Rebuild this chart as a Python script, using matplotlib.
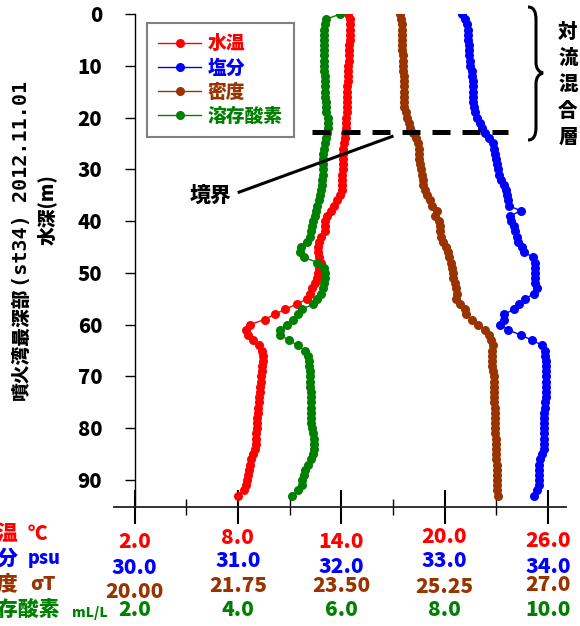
import matplotlib
matplotlib.use('Agg')
import matplotlib.pyplot as plt
import matplotlib.transforms as mtransforms
from matplotlib.path import Path
from matplotlib.patches import PathPatch

plt.rcParams['font.family'] = ['Noto Sans CJK JP', 'DejaVu Sans']
plt.rcParams['font.weight'] = 'heavy'
WT = 'heavy'

# ---------------- data ----------------
depth = list(range(0, 94))

temperature = [
    14.42, 14.50, 14.52, 14.50, 14.48, 14.50, 14.46, 14.45, 14.44, 14.45,
    14.42, 14.40, 14.40, 14.38, 14.36, 14.36, 14.35, 14.34, 14.33, 14.32,
    14.30, 14.30, 14.28, 14.24, 14.20, 14.16, 14.13, 14.12, 14.12, 14.10,
    14.08, 14.06, 14.05, 14.04, 14.02, 13.90, 13.75, 13.60, 13.42, 13.20,
    13.07, 13.07, 13.06, 12.85, 12.70, 12.66, 12.63, 12.72, 12.82, 12.72,
    12.64, 12.60, 12.45, 12.32, 12.18, 12.00, 11.45, 10.75, 10.13, 9.55,
    8.68, 8.45, 8.60, 8.85, 9.25, 9.40, 9.44, 9.43, 9.42, 9.40,
    9.36, 9.33, 9.30, 9.27, 9.24, 9.21, 9.18, 9.15, 9.12, 9.11,
    9.10, 9.08, 9.07, 9.05, 9.02, 8.90, 8.78, 8.72, 8.66, 8.60,
    8.55, 8.48, 8.33, 8.00]

salinity = [
    33.166, 33.200, 33.215, 33.222, 33.227, 33.230, 33.232, 33.235, 33.238, 33.242,
    33.250, 33.260, 33.268, 33.272, 33.276, 33.278, 33.278, 33.279, 33.285, 33.298,
    33.318, 33.340, 33.362, 33.392, 33.430, 33.470, 33.482, 33.490, 33.497, 33.503,
    33.515, 33.530, 33.550, 33.572, 33.592, 33.606, 33.612, 33.620, 33.736, 33.633,
    33.645, 33.668, 33.685, 33.698, 33.705, 33.750, 33.768, 33.858, 33.870, 33.874,
    33.874, 33.874, 33.878, 33.890, 33.868, 33.775, 33.715, 33.675, 33.575, 33.575,
    33.535, 33.616, 33.736, 33.850, 33.945, 33.968, 33.975, 33.978, 33.980, 33.981,
    33.981, 33.981, 33.981, 33.980, 33.978, 33.975, 33.970, 33.965, 33.962, 33.962,
    33.961, 33.961, 33.961, 33.961, 33.958, 33.938, 33.918, 33.916, 33.916, 33.916,
    33.916, 33.914, 33.898, 33.860]

density = [
    24.50, 24.51, 24.52, 24.52, 24.53, 24.53, 24.53, 24.53, 24.54, 24.54,
    24.55, 24.55, 24.56, 24.56, 24.57, 24.57, 24.57, 24.57, 24.57, 24.59,
    24.61, 24.64, 24.67, 24.72, 24.76, 24.80, 24.81, 24.82, 24.82, 24.83,
    24.85, 24.86, 24.88, 24.89, 24.91, 24.95, 25.00, 25.03, 25.12, 25.08,
    25.15, 25.17, 25.18, 25.19, 25.23, 25.28, 25.31, 25.33, 25.36, 25.38,
    25.39, 25.40, 25.42, 25.45, 25.46, 25.44, 25.51, 25.59, 25.61, 25.72,
    25.82, 25.94, 26.00, 26.04, 26.07, 26.06, 26.05, 26.06, 26.06, 26.07,
    26.08, 26.08, 26.09, 26.09, 26.09, 26.09, 26.10, 26.10, 26.10, 26.10,
    26.11, 26.11, 26.12, 26.12, 26.12, 26.12, 26.12, 26.13, 26.13, 26.13,
    26.13, 26.13, 26.14, 26.16]

oxygen = [
    5.98, 5.71, 5.68, 5.67, 5.67, 5.66, 5.66, 5.66, 5.67, 5.67,
    5.67, 5.67, 5.68, 5.68, 5.68, 5.69, 5.69, 5.70, 5.70, 5.71,
    5.74, 5.75, 5.75, 5.72, 5.70, 5.68, 5.66, 5.65, 5.65, 5.65,
    5.64, 5.64, 5.63, 5.63, 5.61, 5.59, 5.56, 5.54, 5.51, 5.50,
    5.46, 5.43, 5.42, 5.40, 5.33, 5.22, 5.21, 5.28, 5.54, 5.66,
    5.68, 5.69, 5.67, 5.64, 5.61, 5.54, 5.46, 5.25, 5.17, 5.07,
    4.95, 4.81, 4.82, 4.99, 5.16, 5.30, 5.35, 5.37, 5.38, 5.39,
    5.40, 5.40, 5.40, 5.41, 5.41, 5.41, 5.41, 5.41, 5.41, 5.42,
    5.44, 5.45, 5.47, 5.48, 5.48, 5.46, 5.42, 5.36, 5.30, 5.27,
    5.25, 5.24, 5.17, 5.05]

series_names = ['水温', '塩分', '密度', '溶存酸素']
unit_names = ['℃', 'psu', 'σT', 'mL/L']

temp_ticks = [2.0, 8.0, 14.0, 20.0, 26.0]
temp_labels = ['2.0', '8.0', '14.0', '20.0', '26.0']
sal_ticks = [30.0, 31.0, 32.0, 33.0, 34.0]
sal_labels = ['30.0', '31.0', '32.0', '33.0', '34.0']
dens_ticks = [20.0, 21.75, 23.5, 25.25, 27.0]
dens_labels = ['20.00', '21.75', '23.50', '25.25', '27.0']
do_ticks = [2.0, 4.0, 6.0, 8.0, 10.0]
do_labels = ['2.0', '4.0', '6.0', '8.0', '10.0']
temp_minor = [5.0, 11.0, 17.0, 23.0]
depth_ticks = [0, 10, 20, 30, 40, 50, 60, 70, 80, 90]

boundary_depth = 22.7

# ---------------- layout ----------------
W, H = 580, 626
fig = plt.figure(figsize=(W / 100, H / 100), dpi=100)
L, R, T, B = 114, 566, 14, 507
ax = fig.add_axes([L / W, 1 - B / H, (R - L) / W, (B - T) / H])

f0 = (134.5 - L) / (R - L)
f1 = (548 - L) / (R - L)


def lims(ticks):
    span = (ticks[-1] - ticks[0]) / (f1 - f0)
    lo = ticks[0] - f0 * span
    return lo, lo + span


RED, BLUE, BROWN, GREEN = '#FF0000', '#0000FF', '#993300', '#008000'

ax_s = ax.twiny()
ax_d = ax.twiny()
ax_o = ax.twiny()

style = dict(marker='o', markersize=6.5, markeredgewidth=0, linewidth=1)
l_t, = ax.plot(temperature, depth, color=RED, **style)
l_s, = ax_s.plot(salinity, depth, color=BLUE, **style)
l_d, = ax_d.plot(density, depth, color=BROWN, **style)
l_o, = ax_o.plot(oxygen, depth, color=GREEN, **style)

ax.set_xlim(*lims(temp_ticks))
ax_s.set_xlim(*lims(sal_ticks))
ax_d.set_xlim(*lims(dens_ticks))
ax_o.set_xlim(*lims(do_ticks))
ax.set_ylim(95.2, 0)

for a in (ax_s, ax_d, ax_o):
    a.set_xticks([])
    for sp in a.spines.values():
        sp.set_visible(False)

ax.spines['top'].set_visible(False)
ax.spines['right'].set_visible(False)
ax.spines['left'].set_position(('data', temp_ticks[0]))
ax.spines['left'].set_linewidth(1.0)
ax.spines['bottom'].set_linewidth(1.3)
ax.spines['bottom'].set_color('#222222')

ax.set_yticks(depth_ticks)
ax.set_yticklabels([str(d) for d in depth_ticks], fontweight=WT)
ax.tick_params(axis='y', direction='out', length=7.2, width=1, pad=16,
               labelsize=14.5)
ax.set_xticks(temp_ticks)
ax.set_xticks(temp_minor, minor=True)
ax.tick_params(axis='x', which='major', direction='inout', length=24,
               width=1.5, labelbottom=False)
ax.tick_params(axis='x', which='minor', direction='inout', length=11,
               width=1.0, labelbottom=False)


def fy(py):
    return 1 - py / H


# bottom tick label rows
rows = [
    (ax, temp_ticks, temp_labels, RED, [542, 538, 542, 537, 541]),
    (ax_s, sal_ticks, sal_labels, BLUE, [568, 561, 567, 561, 567]),
    (ax_d, dens_ticks, dens_labels, BROWN, [592, 586, 586, 587, 585]),
    (ax_o, do_ticks, do_labels, GREEN, [610, 610, 610, 610, 610]),
]
for a, ticks, labels, col, ys in rows:
    tr = mtransforms.blended_transform_factory(a.transData, fig.transFigure)
    for v, lab, py in zip(ticks, labels, ys):
        fig.text(v, fy(py), lab, transform=tr, ha='center', va='center',
                 color=col, fontsize=15, fontweight=WT)

# left-side row names (partly cut off at the figure edge)
name_specs = [
    (series_names[0], unit_names[0], RED, 18, 28, 534, 15, 14, 0),
    (series_names[1], unit_names[1], BLUE, 18, 28, 559, 15, 13, 0),
    (series_names[2], unit_names[2], BROWN, 18, 30, 585, 15, 14, 0),
    (series_names[3], unit_names[3], GREEN, 60, 72, 610, 15, 10, 3),
]
for name, unit, col, xr, xl, py, fs1, fs2, dy in name_specs:
    fig.text(xr / W, fy(py), name, ha='right', va='center', color=col,
             fontsize=fs1, fontweight=WT)
    fig.text(xl / W, fy(py + dy), unit, ha='left', va='center', color=col,
             fontsize=fs2, fontweight=WT)

# y-axis title (two lines)
fig.text(21.7 / W, fy(343.5), '噴火湾最深部', rotation=90, ha='center',
         va='center', fontsize=13.5, fontweight=WT)
fig.text(21.7 / W, fy(183.5), '(st34) 2012.11.01', rotation=90, ha='center',
         va='center', fontsize=14.5, fontweight='bold',
         family=['DejaVu Sans Mono', 'DejaVu Sans'])
fig.text(46.7 / W, fy(210), '水深(m)', rotation=90, ha='center', va='center',
         fontsize=13.5, fontweight=WT)

# legend
leg = ax_o.legend([l_t, l_s, l_d, l_o], series_names, loc='upper left',
                  bbox_to_anchor=(147 / W, fy(23)),
                  bbox_transform=fig.transFigure, borderaxespad=0,
                  fancybox=False, framealpha=1, edgecolor='#808080',
                  prop={'size': 13.5, 'weight': WT},
                  labelcolor='linecolor', handlelength=2.3,
                  handletextpad=0.35, labelspacing=0.28, borderpad=0.6,
                  numpoints=1)
leg.get_frame().set_linewidth(1.5)

# boundary dashed line and annotation
ax_o.plot([12.30, 23.70], [boundary_depth, boundary_depth],
          transform=ax.transData, color='black', linewidth=3.6,
          dashes=(3.6, 2.4), dash_capstyle='butt', zorder=5)
ax_o.plot([7.99, 17.03], [34.5, 23.55], transform=ax.transData,
          color='black', linewidth=2.2, solid_capstyle='butt', zorder=5)
ax_o.text(6.41, 35.1, '境界', transform=ax.transData, ha='center',
          va='center', fontsize=15, fontweight=WT, zorder=6)

# brace for the convective mixed layer
pix = mtransforms.Affine2D().scale(1 / W, -1 / H).translate(0, 1) + fig.transFigure
verts = [(528, 7), (534, 7), (536, 12), (536, 20),
         (536, 62),
         (536, 69), (539, 72), (543, 73),
         (539, 74), (536, 77), (536, 84),
         (536, 127),
         (536, 135), (534, 140), (528, 140)]
codes = [Path.MOVETO, Path.CURVE4, Path.CURVE4, Path.CURVE4,
         Path.LINETO,
         Path.CURVE4, Path.CURVE4, Path.CURVE4,
         Path.CURVE4, Path.CURVE4, Path.CURVE4,
         Path.LINETO,
         Path.CURVE4, Path.CURVE4, Path.CURVE4]
fig.add_artist(PathPatch(Path(verts, codes), fill=False, lw=2.2,
                         edgecolor='black', transform=pix))

for i, ch in enumerate('対流混合層'):
    fig.text(568 / W, fy(32 + i * 26.4), ch, ha='center', va='center',
             fontsize=14, fontweight=WT)

fig.savefig('out.png', dpi=100)
